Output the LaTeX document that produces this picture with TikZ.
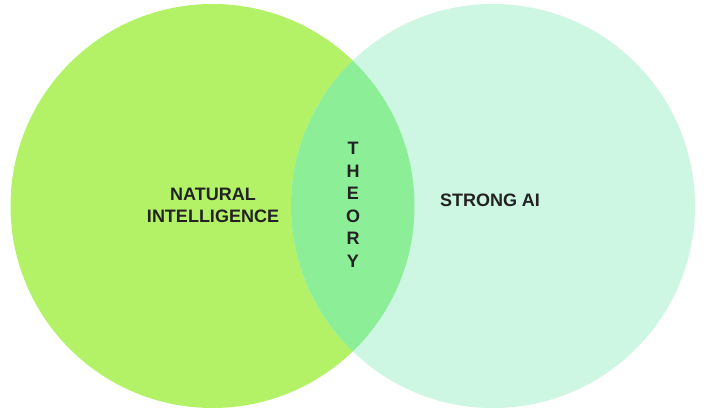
\documentclass[tikz,border=0pt]{standalone}
\usepackage{fontspec}
\setmainfont{Liberation Sans}
\definecolor{leftc}{HTML}{B3F266}
\definecolor{rightc}{HTML}{CDF6E3}
\definecolor{midc}{HTML}{8CEE97}
\definecolor{txt}{HTML}{222222}
\tikzset{
  lbl/.style={text=txt, font=\fontsize{18}{22}\selectfont\bfseries, align=center, inner sep=0pt},
  vlet/.style={text=txt, font=\fontsize{18}{22}\selectfont\bfseries, inner sep=0pt, anchor=center}
}
\begin{document}
\begin{tikzpicture}[x=1pt,y=-1pt]
\useasboundingbox[fill=white] (0,0) rectangle (713,419);
\coordinate (cl) at (212.5,206);
\coordinate (cr) at (493,206);
\fill[leftc] (cl) circle[radius=202];
\fill[rightc] (cr) circle[radius=202];
\begin{scope}
  \clip (cl) circle[radius=202];
  \fill[midc] (cr) circle[radius=202];
\end{scope}
\node[lbl] (nat) at (213,205) {NATURAL\\INTELLIGENCE};
\node[lbl] (ai) at (490,200) {STRONG AI};
\node[vlet] (t1) at (353,148.5) {T};
\node[vlet] (t2) at (353,171) {H};
\node[vlet] (t3) at (353,193.5) {E};
\node[vlet] (t4) at (353,216) {O};
\node[vlet] (t5) at (353,238.5) {R};
\node[vlet] (t6) at (353,261) {Y};
\end{tikzpicture}
\end{document}
